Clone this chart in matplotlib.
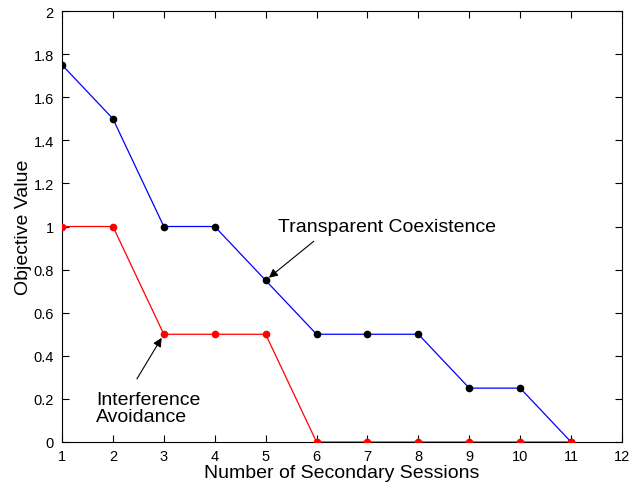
import matplotlib
matplotlib.use("Agg")
import matplotlib.pyplot as plt

plt.rcParams['font.family'] = ['Liberation Sans', 'DejaVu Sans']

sessions = [1, 2, 3, 4, 5, 6, 7, 8, 9, 10, 11]
transparent = [1.75, 1.5, 1.0, 1.0, 0.75, 0.5, 0.5, 0.5, 0.25, 0.25, 0.0]
avoidance = [1.0, 1.0, 0.5, 0.5, 0.5, 0.0, 0.0, 0.0, 0.0, 0.0, 0.0]

fig = plt.figure(figsize=(6.29, 4.89), dpi=100)
ax = fig.add_axes([62 / 629, 46 / 489, 560 / 629, 431 / 489])

ax.plot(sessions, transparent, color='b', linewidth=0.9, marker='o', markersize=4.5,
        markerfacecolor='k', markeredgecolor='k', zorder=3)
ax.plot(sessions, avoidance, color='r', linewidth=0.9, marker='o', markersize=4.5,
        markerfacecolor='r', markeredgecolor='r', zorder=3)

ax.set_xlim(1, 12)
ax.set_ylim(0, 2)
ax.set_xticks(range(1, 13))
ax.set_yticks([0, 0.2, 0.4, 0.6, 0.8, 1, 1.2, 1.4, 1.6, 1.8, 2])
ax.set_yticklabels(['0', '0.2', '0.4', '0.6', '0.8', '1', '1.2', '1.4', '1.6', '1.8', '2'])
ax.tick_params(direction='in', top=True, right=True, labelsize=10.5, length=5, width=0.8)
ax.tick_params(axis='x', pad=5)
ax.tick_params(axis='y', pad=6)
for s in ax.spines.values():
    s.set_linewidth(0.8)

ax.set_xlabel('Number of Secondary Sessions', fontsize=14, labelpad=0.5)
ax.set_ylabel('Objective Value', fontsize=14, labelpad=1)

ax.annotate('Transparent Coexistence', xy=(5, 0.75), xytext=(5.24, 1.0),
            fontsize=14, ha='left', va='center',
            arrowprops=dict(arrowstyle='-|>', color='k', lw=0.8, shrinkA=4, shrinkB=3,
                            mutation_scale=13, relpos=(0.2, 0.0)))
ax.annotate('Interference\nAvoidance', xy=(3, 0.5), xytext=(1.67, 0.157),
            fontsize=14, ha='left', va='center', linespacing=1.0,
            arrowprops=dict(arrowstyle='-|>', color='k', lw=0.8, shrinkA=8, shrinkB=3,
                            mutation_scale=13, relpos=(0.32, 1.0)))

fig.savefig('out.png', dpi=100)
